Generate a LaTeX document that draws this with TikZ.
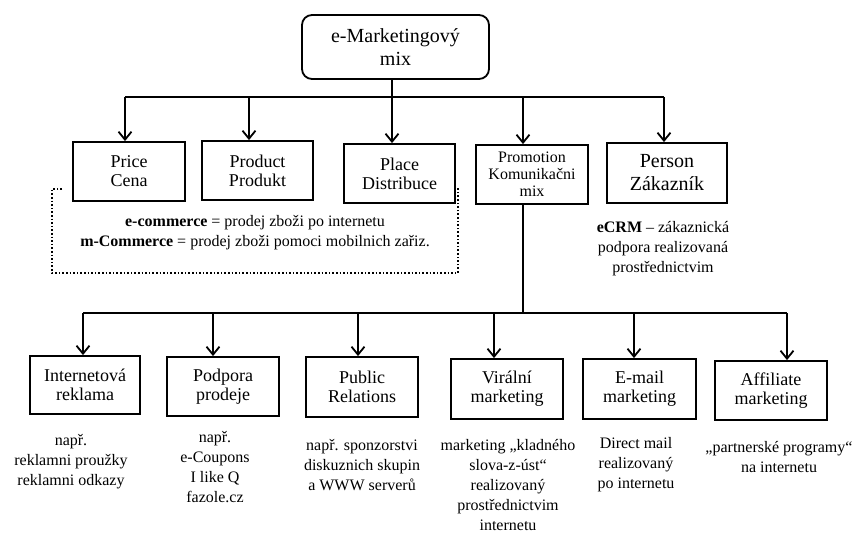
\documentclass[tikz,border=0pt]{standalone}
\usepackage{fontspec}
\setmainfont{Liberation Serif}
\usetikzlibrary{arrows.meta}
\begin{document}
\begin{tikzpicture}[x=1pt,y=-1pt,
  box/.style={draw,line width=1.8pt,inner sep=0pt,align=center,font=\fontsize{18}{19}\selectfont},
  topbox/.style={box,rounded corners=10pt,font=\fontsize{20}{23}\selectfont},
  conn/.style={line width=1.8pt},
  arr/.style={conn,-{Straight Barb[length=8pt,width=13pt,line width=1.8pt]}},
  ann/.style={anchor=north,inner sep=0pt,align=center,font=\fontsize{16}{20}\selectfont},
  dotbox/.style={line width=1.6pt,dotted}]
\useasboundingbox (0,0) rectangle (854,534);
% top
\node[topbox,minimum width=187pt,minimum height=64pt] (top) at (395.5,47) {e-Marketingový\\mix};
% first row
\node[box,minimum width=112pt,minimum height=59pt] (price) at (129,171.5) {Price\\Cena};
\node[box,minimum width=111pt,minimum height=59pt] (product) at (257.5,170.5) {Product\\Produkt};
\node[box,minimum width=111pt,minimum height=59pt] (place) at (399.5,173.5) {Place\\Distribuce};
\node[box,minimum width=112pt,minimum height=59pt,font=\fontsize{16}{17}\selectfont] (promo) at (532,174.5) {Promotion\\Komunikačni\\mix};
\node[box,minimum width=120pt,minimum height=60pt,font=\fontsize{20}{23}\selectfont] (person) at (667,173) {Person\\Zákazník};
% bus 1
\coordinate (tj) at (392,97);
\coordinate (a1) at (125,97);
\coordinate (a2) at (249,97);
\coordinate (a3) at (392,97);
\coordinate (a4) at (523,97);
\coordinate (a5) at (664,97);
\draw[conn] (top.south -| tj) -- (tj);
\draw[conn] (a1) -- (a5);
\draw[arr] (a1) -- (a1 |- price.north);
\draw[arr] (a2) -- (a2 |- product.north);
\draw[arr] (a3) -- (a3 |- place.north);
\draw[arr] (a4) -- (a4 |- promo.north);
\draw[arr] (a5) -- (a5 |- person.north);
% dotted frame
\draw[dotbox] (62,189) -- (52,189) -- (52,273) -- (458,273) -- (458,188);
\node[ann] (ecom) at (255,215) {\textbf{e-commerce} = prodej zboži po internetu\\\textbf{m-Commerce} = prodej zboži pomoci mobilnich zařiz.};
\node[ann] (ecrm) at (663,221) {\textbf{eCRM} – zákaznická\\podpora realizovaná\\prostřednictvim};
% second row
\node[box,minimum width=110pt,minimum height=58pt] (inet) at (85,385) {Internetová\\reklama};
\node[box,minimum width=112pt,minimum height=59pt] (podp) at (223,386.5) {Podpora\\prodeje};
\node[box,minimum width=112pt,minimum height=60pt] (pr) at (362,387) {Public\\Relations};
\node[box,minimum width=112pt,minimum height=60pt] (viral) at (507,389) {Virální\\marketing};
\node[box,minimum width=113pt,minimum height=60pt] (email) at (639.5,389) {E-mail\\marketing};
\node[box,minimum width=112pt,minimum height=59pt] (affil) at (771,390.5) {Affiliate\\marketing};
% bus 2
\coordinate (pj) at (523,313);
\coordinate (c1) at (83,313);
\coordinate (c2) at (213,313);
\coordinate (c3) at (358,313);
\coordinate (c4) at (494,313);
\coordinate (c5) at (634,313);
\coordinate (c6) at (787,313);
\draw[conn] (promo.south -| pj) -- (pj);
\draw[conn] (c1) -- (c6);
\draw[arr] (c1) -- (c1 |- inet.north);
\draw[arr] (c2) -- (c2 |- podp.north);
\draw[arr] (c3) -- (c3 |- pr.north);
\draw[arr] (c4) -- (c4 |- viral.north);
\draw[arr] (c5) -- (c5 |- email.north);
\draw[arr] (c6) -- (c6 |- affil.north);
% annotations row 2
\node[ann] (n1) at (71,434) {např.\\reklamni proužky\\reklamni odkazy};
\node[ann] (n2) at (215,431) {např.\\e-Coupons\\I like Q\\fazole.cz};
\node[ann] (n3) at (362,439) {např. sponzorstvi\\diskuznich skupin\\a WWW serverů};
\node[ann] (n4) at (508,439) {marketing „kladného\\slova-z-úst“\\realizovaný\\prostřednictvim\\internetu};
\node[ann] (n5) at (636,437) {Direct mail\\realizovaný\\po internetu};
\node[ann] (n6) at (779,441) {„partnerské programy“\\na internetu};
\end{tikzpicture}
\end{document}
